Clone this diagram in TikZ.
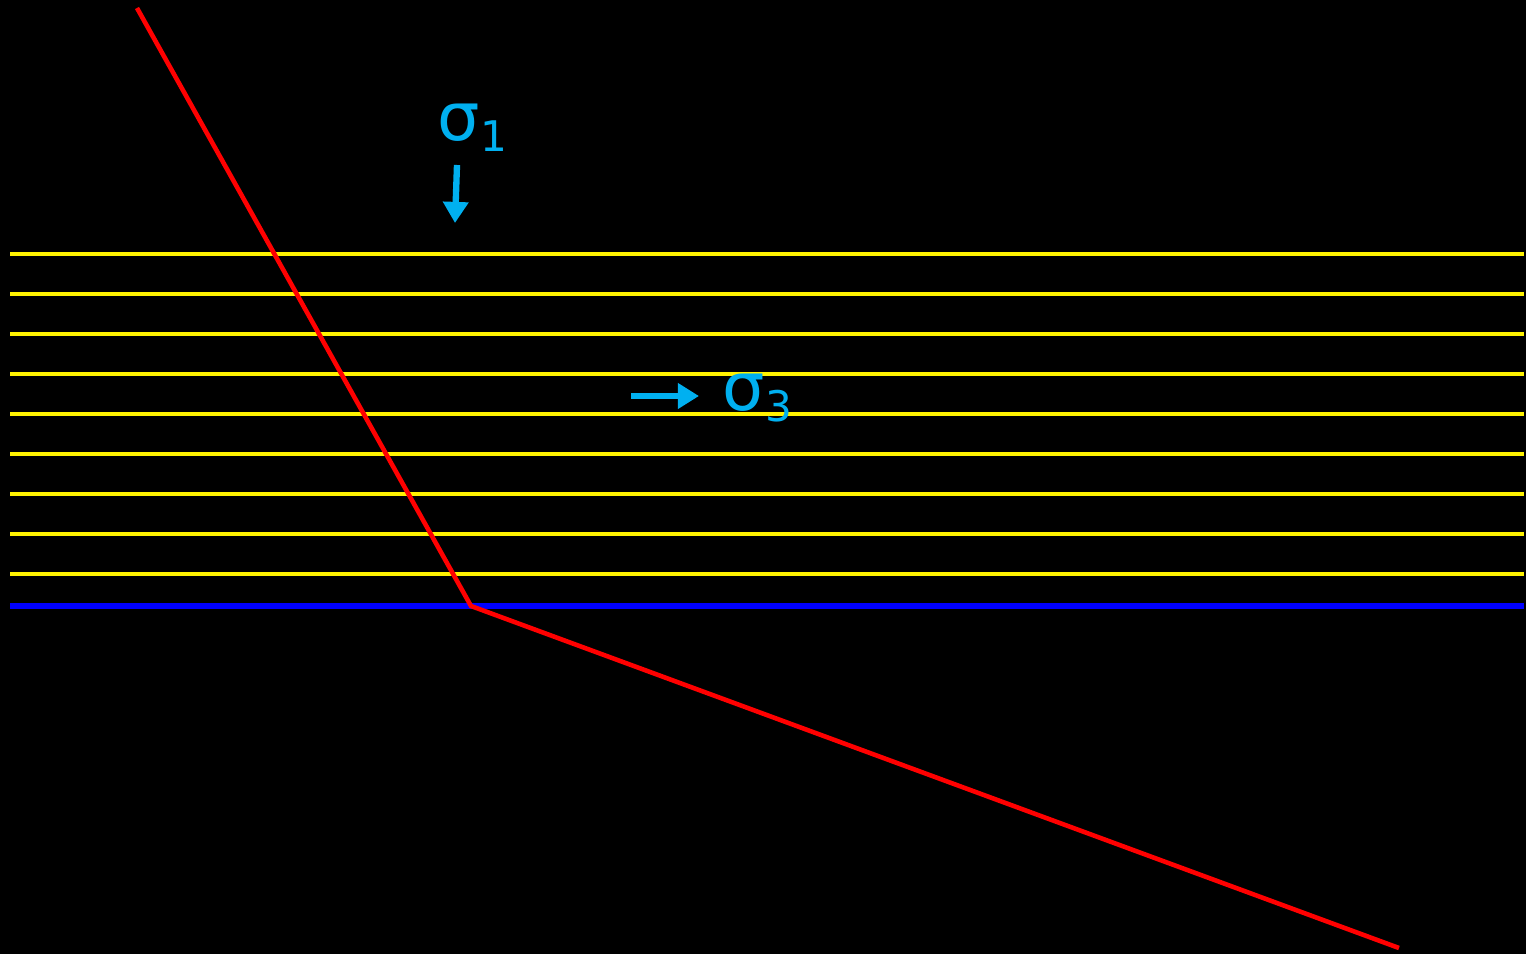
\documentclass[tikz,border=0pt]{standalone}
\usepackage{fontspec}
\setmainfont{DejaVu Sans}
\usetikzlibrary{arrows.meta}
\definecolor{sigblue}{HTML}{00B0F0}
\newcommand{\sig}[1]{\fontsize{19}{19}\selectfont σ\raisebox{-3.4pt}{\fontsize{12}{12}\selectfont #1}}

\begin{document}
\begin{tikzpicture}[x=0.01cm,y=-0.01cm,
  layer/.style={yellow,line width=1.4pt},
  base/.style={blue,line width=1.45pt},
  fault/.style={red,line width=1.3pt},
  stress/.style={sigblue,line width=1.8pt,-{Triangle[length=6pt,width=7pt]}},
  lbl/.style={sigblue,inner sep=0pt,anchor=base west}]
  \fill[black] (0,0) rectangle (1526,954);
  \useasboundingbox (0,0) rectangle (1526,954);
  % layers
  \foreach \y in {254,294,...,574}
    \draw[layer] (10,\y) -- (1524,\y);
  \draw[base] (10,606) -- (1524,606);
  % fault
  \coordinate (ftop) at (137,8);
  \coordinate (fkink) at (471,606);
  \coordinate (fend) at (1399,948);
  \draw[fault,line join=miter] (ftop) -- (fkink) -- (fend);
  % stresses
  \node[lbl] (s1) at (437,140) {\sig{1}};
  \coordinate (s1a) at (457,165);
  \coordinate (s1b) at (455,223);
  \draw[stress] (s1a) -- (s1b);
  \node[lbl] (s3) at (722,410) {\sig{3}};
  \coordinate (s3a) at (631,396);
  \coordinate (s3b) at (699,396);
  \draw[stress] (s3a) -- (s3b);
\end{tikzpicture}
\end{document}
